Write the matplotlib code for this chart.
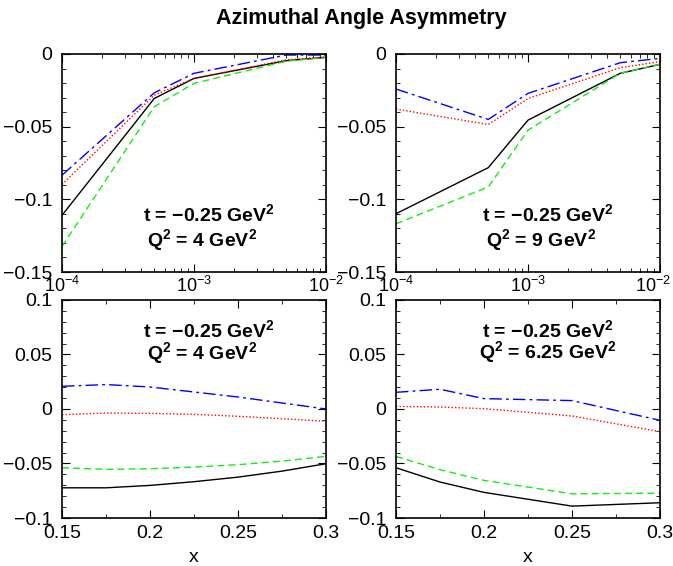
import numpy as np
import matplotlib
matplotlib.use("Agg")
import matplotlib.pyplot as plt
import matplotlib.transforms as mtransforms
from matplotlib.ticker import MultipleLocator, LogLocator, NullFormatter

plt.rcParams['font.family'] = ['Liberation Sans', 'DejaVu Sans']
plt.rcParams['mathtext.default'] = 'regular'

# --- data ---
xb = [1e-4, 5e-4, 1e-3, 5e-3, 1e-2]
log_ticks = [1e-4, 1e-3, 1e-2]
log_labels = ['10$^{-4}$', '10$^{-3}$', '10$^{-2}$']

# top left: t = -0.25, Q2 = 4
tl_solid = [-0.111, -0.0306, -0.0168, -0.0046, -0.0023]
tl_dash = [-0.1324, -0.0363, -0.0202, -0.0050, -0.0023]
tl_dot = [-0.0897, -0.0283, -0.0168, -0.0040, -0.0020]
tl_dashdot = [-0.0834, -0.0267, -0.0133, -0.0007, -0.0007]

# top right: t = -0.25, Q2 = 9
tr_solid = [-0.1099, -0.0782, -0.0455, -0.0133, -0.0071]
tr_dash = [-0.1168, -0.0915, -0.0524, -0.0133, -0.0071]
tr_dot = [-0.0379, -0.0485, -0.0306, -0.0094, -0.0053]
tr_dashdot = [-0.0241, -0.0450, -0.0271, -0.0060, -0.0030]

# bottom left: t = -0.25, Q2 = 4
x_bl = [0.15, 0.175, 0.2, 0.225, 0.25, 0.275, 0.3]
bl_solid = [-0.0723, -0.0723, -0.0701, -0.0667, -0.0625, -0.0570, -0.0502]
bl_dash = [-0.0539, -0.0554, -0.0548, -0.0533, -0.0511, -0.0478, -0.0435]
bl_dot = [-0.0052, -0.0037, -0.0040, -0.0049, -0.0067, -0.0089, -0.0113]
bl_dashdot = [0.0208, 0.0224, 0.0202, 0.0156, 0.0110, 0.0055, 0.0]

# bottom right: t = -0.25, Q2 = 6.25
x_br = [0.15, 0.175, 0.2, 0.25, 0.3]
br_solid = [-0.0539, -0.0670, -0.0765, -0.0891, -0.0860]
br_dash = [-0.0435, -0.0557, -0.0655, -0.0778, -0.0772]
br_dot = [0.0024, 0.0018, 0.0003, -0.0064, -0.0208]
br_dashdot = [0.0153, 0.0181, 0.0095, 0.0077, -0.0104]

labels = ['t = \u22120.25 GeV$^{2}$', 'Q$^{2}$ = 4 GeV$^{2}$',
          'Q$^{2}$ = 9 GeV$^{2}$', 'Q$^{2}$ = 6.25 GeV$^{2}$']

fig = plt.figure(figsize=(6.73, 5.66), dpi=100)

W, H = 0.3923, 0.3852
ax_tl = fig.add_axes([0.0921, 0.5194, W, H])
ax_tr = fig.add_axes([0.5884, 0.5194, W, H])
ax_bl = fig.add_axes([0.0921, 0.0848, W, H])
ax_br = fig.add_axes([0.5884, 0.0848, W, H])


def draw(ax, x, solid, dash, dot, dashdot):
    ax.plot(x, solid, color='black', lw=1.0, ls='-')
    ax.plot(x, dash, color='#11ee11', lw=1.0, ls=(0, (5, 3)))
    ax.plot(x, dot, color='red', lw=1.0, ls=(0, (1, 1.5)))
    ax.plot(x, dashdot, color='blue', lw=1.0, ls=(0, (9, 3, 2, 3)))


def style(ax):
    ax.tick_params(which='both', direction='in', top=True, right=True, labelsize=14)
    ax.tick_params(which='major', length=6)
    ax.tick_params(which='minor', length=3)
    ax.tick_params(axis='y', pad=7)
    ax.tick_params(axis='x', pad=5)
    ax.yaxis.set_minor_locator(MultipleLocator(0.01))
    for s in ax.spines.values():
        s.set_linewidth(1.2)


draw(ax_tl, xb, tl_solid, tl_dash, tl_dot, tl_dashdot)
draw(ax_tr, xb, tr_solid, tr_dash, tr_dot, tr_dashdot)
draw(ax_bl, x_bl, bl_solid, bl_dash, bl_dot, bl_dashdot)
draw(ax_br, x_br, br_solid, br_dash, br_dot, br_dashdot)

for ax in (ax_tl, ax_tr):
    ax.set_xscale('log')
    ax.set_xlim(1e-4, 1e-2)
    ax.set_ylim(-0.15, 0)
    ax.set_yticks([-0.15, -0.1, -0.05, 0])
    ax.set_yticklabels(['\u22120.15', '\u22120.1', '\u22120.05', '0'])
    ax.set_xticks(log_ticks)
    ax.set_xticklabels(log_labels)
    ax.xaxis.set_minor_locator(LogLocator(base=10, subs=np.arange(2, 10), numticks=20))
    ax.xaxis.set_minor_formatter(NullFormatter())
    style(ax)
    ax.tick_params(axis='x', pad=3, labelsize=13)

# keep the last label of the right panel inside the figure
last = ax_tr.get_xticklabels()[-1]
last.set_transform(last.get_transform() +
                   mtransforms.ScaledTranslation(-5 / 72, 0, fig.dpi_scale_trans))

for ax in (ax_bl, ax_br):
    ax.set_xlim(0.15, 0.3)
    ax.set_ylim(-0.1, 0.1)
    ax.set_xticks([0.15, 0.2, 0.25, 0.3])
    ax.set_xticklabels(['0.15', '0.2', '0.25', '0.3'])
    ax.set_yticks([-0.1, -0.05, 0, 0.05, 0.1])
    ax.set_yticklabels(['\u22120.1', '\u22120.05', '0', '0.05', '0.1'])
    ax.xaxis.set_minor_locator(MultipleLocator(0.025))
    ax.set_xlabel('x', fontsize=14, labelpad=5)
    style(ax)

kw = dict(fontsize=14, fontweight='bold', ha='center', va='center')
ax_tl.text(0.555, 0.265, labels[0], transform=ax_tl.transAxes, **kw)
ax_tl.text(0.53, 0.145, labels[1], transform=ax_tl.transAxes, **kw)
ax_tr.text(0.575, 0.265, labels[0], transform=ax_tr.transAxes, **kw)
ax_tr.text(0.55, 0.145, labels[2], transform=ax_tr.transAxes, **kw)
ax_bl.text(0.555, 0.86, labels[0], transform=ax_bl.transAxes, **kw)
ax_bl.text(0.53, 0.755, labels[1], transform=ax_bl.transAxes, **kw)
ax_br.text(0.575, 0.86, labels[0], transform=ax_br.transAxes, **kw)
ax_br.text(0.575, 0.76, labels[3], transform=ax_br.transAxes, **kw)

fig.text(0.537, 0.968, 'Azimuthal Angle Asymmetry', fontsize=15.5, fontweight='bold',
         ha='center', va='center')

fig.savefig('out.png', dpi=100)
